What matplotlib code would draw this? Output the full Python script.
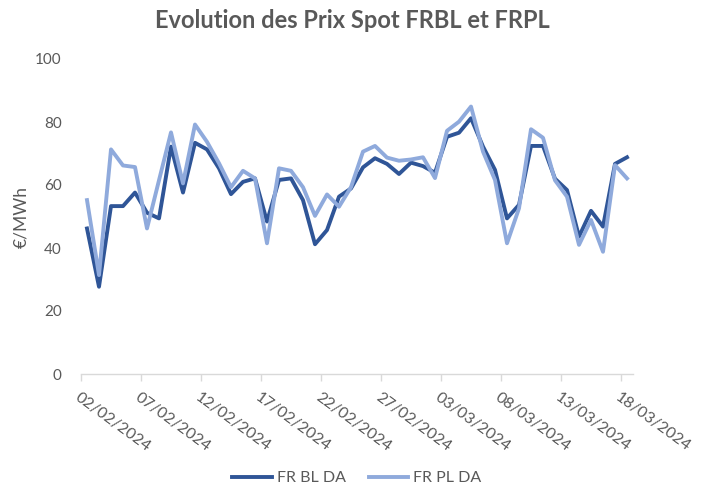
import matplotlib
matplotlib.use("Agg")
import matplotlib.pyplot as plt
import matplotlib.transforms as mtransforms
import numpy as np
import pandas as pd

dates = pd.date_range("2024-02-02", "2024-03-18", freq="D")
fr_bl_da = [46.2, 27.7, 53.3, 53.3, 57.6, 51.2, 49.4, 72.2, 57.6, 73.4,
            71.3, 65.3, 57.1, 61.0, 62.1, 48.4, 61.6, 62.1, 55.2, 41.2,
            45.7, 56.3, 58.9, 65.6, 68.5, 66.7, 63.5, 67.1, 66.0, 63.9,
            75.3, 76.6, 81.2, 72.2, 64.8, 49.4, 53.7, 72.4, 72.4, 62.0,
            58.4, 43.6, 51.8, 46.8, 66.7, 68.8]
fr_pl_da = [55.2, 31.4, 71.3, 66.2, 65.7, 46.2, 61.5, 76.7, 60.5, 79.2,
            73.7, 66.9, 59.3, 64.5, 62.1, 41.5, 65.3, 64.5, 59.3, 50.2,
            57.0, 53.1, 59.3, 70.6, 72.4, 68.7, 67.7, 68.1, 68.8, 62.2,
            77.2, 80.1, 84.9, 70.6, 61.6, 41.5, 52.6, 77.7, 75.0, 61.5,
            56.3, 41.0, 48.9, 38.8, 66.3, 62.1]
tick_labels = [d.strftime("%d/%m/%Y") for d in dates[::5]]
series_names = ["FR BL DA", "FR PL DA"]
title = "Evolution des Prix Spot FRBL et FRPL"
ylabel = "€/MWh"

plt.rcParams['font.family'] = ['Lato', 'DejaVu Sans']

fig = plt.figure(figsize=(7.14, 4.93), dpi=100)
ax = fig.add_axes([81/714, 1-374/493, (633-81)/714, (374-59)/493])

x = np.arange(len(dates))
ax.plot(x, fr_bl_da, color="#2F5597", lw=2.8, solid_joinstyle="round", label=series_names[0])
ax.plot(x, fr_pl_da, color="#8FAADC", lw=2.8, solid_joinstyle="round", label=series_names[1])

ax.set_xlim(-0.5, len(dates) - 0.5)
ax.set_ylim(0, 100)
ax.set_yticks([0, 20, 40, 60, 80, 100])
ax.set_xticks(np.arange(0, len(dates), 5) - 0.5)
ax.set_xticklabels(tick_labels, rotation=-36, ha="left", va="top",
                   rotation_mode="anchor", color="#595959", fontsize=11.5)
offset = mtransforms.ScaledTranslation(4/100, 0, fig.dpi_scale_trans)
for lab in ax.get_xticklabels():
    lab.set_transform(lab.get_transform() + offset)
ax.tick_params(axis="x", length=5, color="#D9D9D9", width=1, pad=7)
ax.tick_params(axis="y", length=0, labelcolor="#595959", labelsize=11, pad=14)

for s in ["top", "right", "left"]:
    ax.spines[s].set_visible(False)
ax.spines["bottom"].set_color("#D9D9D9")
ax.spines["bottom"].set_linewidth(1)

ax.set_ylabel(ylabel, color="#595959", fontsize=12.5, labelpad=4)
fig.text(0.493, 0.958, title, ha="center", va="center", fontsize=17,
         fontweight="bold", color="#595959")

leg = fig.legend(loc="center", bbox_to_anchor=(0.5, 0.03), ncol=2, frameon=False,
                 fontsize=11.5, handlelength=2.5, columnspacing=1.4, handletextpad=0.3)
for t in leg.get_texts():
    t.set_color("#595959")

fig.savefig("out.png", dpi=100, facecolor="white")
